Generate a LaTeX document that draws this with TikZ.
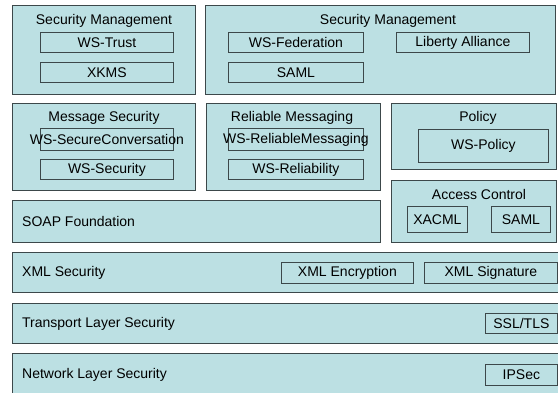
\documentclass[tikz,border=0pt]{standalone}
\usepackage{fontspec}
\setmainfont{Liberation Sans}
\definecolor{boxfill}{RGB}{188,224,227}
\definecolor{boxline}{RGB}{60,72,74}
\begin{document}
\begin{tikzpicture}[x=1pt,y=-1pt,
  font=\fontsize{14}{16}\selectfont,
  obox/.style={draw=boxline,fill=boxfill,line width=0.9pt,inner sep=0pt,anchor=north west},
  ibox/.style={draw=boxline,fill=boxfill,line width=0.8pt,inner sep=0pt,anchor=north west},
  txt/.style={inner sep=0pt},
  ltxt/.style={inner sep=0pt,anchor=west}]
\useasboundingbox (0,0) rectangle (558,393);
\clip (0,0) rectangle (558,393);
% ---------- row 1
\node[obox,minimum width=183,minimum height=89] (sm1) at (12,5) {};
\node[txt] (sm1t) at (104,21) {Security Management};
\node[ibox,minimum width=133,minimum height=20] (wstrust) at (40,32) {};
\node[txt] at (wstrust.center) {WS-Trust};
\node[ibox,minimum width=133,minimum height=20] (xkms) at (40,62) {};
\node[txt] at (xkms.center) {XKMS};

\node[obox,minimum width=350,minimum height=89] (sm2) at (205,5) {};
\node[txt] (sm2t) at (388,21) {Security Management};
\node[ibox,minimum width=135,minimum height=20] (wsfed) at (228,32) {};
\node[txt] at (wsfed.center) {WS-Federation};
\node[ibox,minimum width=133,minimum height=20] (liberty) at (396,32) {};
\node[txt] at (liberty.center) {Liberty Alliance};
\node[ibox,minimum width=135,minimum height=20] (saml1) at (228,62) {};
\node[txt] at (saml1.center) {SAML};
% ---------- row 2
\node[obox,minimum width=183,minimum height=87] (msg) at (12,103) {};
\node[txt] (msgt) at (104,118) {Message Security};
\node[ibox,minimum width=133,minimum height=22] (wssc) at (40,128) {};
\node[txt] at (wssc.center) {WS-SecureConversation};
\node[ibox,minimum width=133,minimum height=20] (wss) at (40,159) {};
\node[txt] at (wss.center) {WS-Security};

\node[obox,minimum width=174,minimum height=87] (rel) at (206,103) {};
\node[txt] (relt) at (292,118) {Reliable Messaging};
\node[ibox,minimum width=135,minimum height=22] (wsrm) at (228,128) {};
\node[txt] at (wsrm.center) {WS-ReliableMessaging};
\node[ibox,minimum width=135,minimum height=20] (wsr) at (228,159) {};
\node[txt] at (wsr.center) {WS-Reliability};

\node[obox,minimum width=165,minimum height=66] (pol) at (391,103) {};
\node[txt] (polt) at (478,118) {Policy};
\node[ibox,minimum width=130,minimum height=33] (wspol) at (418,129) {};
\node[txt] at (wspol.center) {WS-Policy};

\node[obox,minimum width=165,minimum height=62] (acc) at (391,180) {};
\node[txt] (acct) at (479,194) {Access Control};
\node[ibox,minimum width=60,minimum height=26] (xacml) at (407,206) {};
\node[txt] at (xacml.center) {XACML};
\node[ibox,minimum width=59,minimum height=26] (saml2) at (491,206) {};
\node[txt] at (saml2.center) {SAML};

\node[obox,minimum width=368,minimum height=42] (soap) at (12,200) {};
\node[ltxt] at (22,221) {SOAP Foundation};
% ---------- layers
\node[obox,minimum width=560,minimum height=40] (xmls) at (12,252) {};
\node[ltxt] at (22,273) {XML Security};
\node[ibox,minimum width=132,minimum height=21] (xenc) at (281,262) {};
\node[txt] at (xenc.center) {XML Encryption};
\node[ibox,minimum width=133,minimum height=21] (xsig) at (424,262) {};
\node[txt] at (xsig.center) {XML Signature};

\node[obox,minimum width=560,minimum height=40] (tls) at (12,303) {};
\node[ltxt] at (22,324) {Transport Layer Security};
\node[ibox,minimum width=72,minimum height=20] (ssl) at (485,313) {};
\node[txt] at (ssl.center) {SSL/TLS};

\node[obox,minimum width=560,minimum height=60] (net) at (12,353) {};
\node[ltxt] at (22,375) {Network Layer Security};
\node[ibox,minimum width=72,minimum height=21] (ipsec) at (485,364) {};
\node[txt] at (ipsec.center) {IPSec};
\end{tikzpicture}
\end{document}
